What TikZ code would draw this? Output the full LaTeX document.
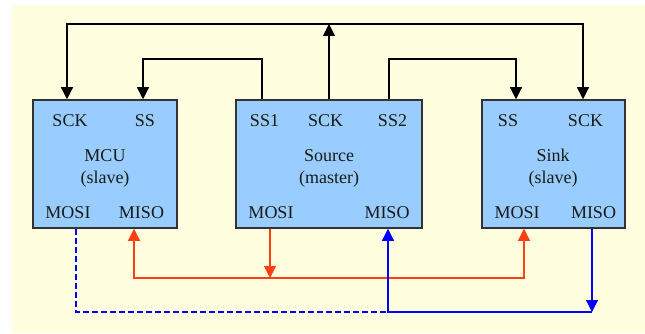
\documentclass[tikz,border=0pt]{standalone}
\usepackage{fontspec}
\setmainfont{Liberation Serif}
\usetikzlibrary{arrows.meta}
\definecolor{bgyellow}{HTML}{FFFFE0}
\definecolor{boxblue}{HTML}{99CCFF}
\definecolor{boxline}{HTML}{333333}
\definecolor{sigred}{HTML}{FF4010}
\definecolor{sigblue}{HTML}{0000FF}
\definecolor{txt}{HTML}{1A1A1A}
\begin{document}
\begin{tikzpicture}[x=1pt,y=-1pt,
  chip/.style={draw=boxline,fill=boxblue,line width=1.5pt,inner sep=0pt},
  lbl/.style={anchor=base,inner sep=0pt,text=txt,font=\fontsize{18}{21}\selectfont},
  wire/.style={line width=1.1pt},
  tip/.style={-{Triangle[length=12pt,width=12pt]}},
  redw/.style={wire,draw=sigred},
  bluew/.style={wire,draw=sigblue}]
\useasboundingbox (0,0) rectangle (645,334);
\fill[bgyellow] (12,5) rectangle (645,333);
% boxes
\node[chip,minimum width=144pt,minimum height=128pt] (mcu) at (105,164) {};
\node[chip,minimum width=186pt,minimum height=128pt] (src) at (329,164) {};
\node[chip,minimum width=143pt,minimum height=128pt] (snk) at (553.5,164) {};
% labels MCU
\node[lbl] (mcusck) at (70,126.7) {SCK};
\node[lbl] (mcuss) at (145,126.7) {SS};
\node[lbl] (mcut1) at (105,161.7) {MCU};
\node[lbl] (mcut2) at (105,183) {(slave)};
\node[lbl] (mcumosi) at (68,218) {MOSI};
\node[lbl] (mcumiso) at (141.5,218) {MISO};
% labels Source
\node[lbl] (srcss1) at (264.5,126.7) {SS1};
\node[lbl] (srcsck) at (325.7,126.7) {SCK};
\node[lbl] (srcss2) at (392.5,126.7) {SS2};
\node[lbl] (srct1) at (329,161.7) {Source};
\node[lbl] (srct2) at (329,183) {(master)};
\node[lbl] (srcmosi) at (271,218) {MOSI};
\node[lbl] (srcmiso) at (387,218) {MISO};
% labels Sink
\node[lbl] (snkss) at (508,126.7) {SS};
\node[lbl] (snksck) at (585.5,126.7) {SCK};
\node[lbl] (snkt1) at (553,161.7) {Sink};
\node[lbl] (snkt2) at (553,183) {(slave)};
\node[lbl] (snkmosi) at (517,218) {MOSI};
\node[lbl] (snkmiso) at (593.5,218) {MISO};
% pin points
\coordinate (pMcuSck) at (mcu.north -| 67,0);
\coordinate (pMcuSs) at (mcu.north -| 143,0);
\coordinate (pSrcSs1) at (src.north -| 262,0);
\coordinate (pSrcSck) at (src.north -| 329,0);
\coordinate (pSrcSs2) at (src.north -| 389,0);
\coordinate (pSnkSs) at (snk.north -| 516,0);
\coordinate (pSnkSck) at (snk.north -| 583,0);
\coordinate (pMcuMosi) at (mcu.south -| 76,0);
\coordinate (pMcuMiso) at (mcu.south -| 134,0);
\coordinate (pSrcMosi) at (src.south -| 270,0);
\coordinate (pSrcMiso) at (src.south -| 388,0);
\coordinate (pSnkMosi) at (snk.south -| 524,0);
\coordinate (pSnkMiso) at (snk.south -| 592,0);
% junctions
\coordinate (topL) at (67,24);
\coordinate (topR) at (583,24);
\coordinate (topC) at (329,24);
\coordinate (redY) at (270,278);
\coordinate (blueY) at (388,312);
% SCK bus
\draw[wire,tip] (pSrcSck) -- (topC);
\draw[wire,tip] (topC) -- (topL) -- (pMcuSck);
\draw[wire,tip] (topC) -- (topR) -- (pSnkSck);
% SS lines
\draw[wire,tip] (pSrcSs1) |- (pMcuSs |- 0,59) -- (pMcuSs);
\draw[wire,tip] (pSrcSs2) |- (pSnkSs |- 0,59) -- (pSnkSs);
% red MOSI bus
\draw[redw,tip] (pSrcMosi) -- (redY);
\draw[redw,tip] (redY) -| (pMcuMiso);
\draw[redw,tip] (redY) -| (pSnkMosi);
% blue MISO bus
\draw[bluew,tip] (pSnkMiso) -- (pSnkMiso |- blueY);
\draw[bluew,tip] (pSnkMiso |- blueY) -- (blueY) -- (pSrcMiso);
\draw[wire,draw=sigblue,dash pattern=on 6pt off 3pt] (pMcuMosi) |- (blueY);
\end{tikzpicture}
\end{document}
